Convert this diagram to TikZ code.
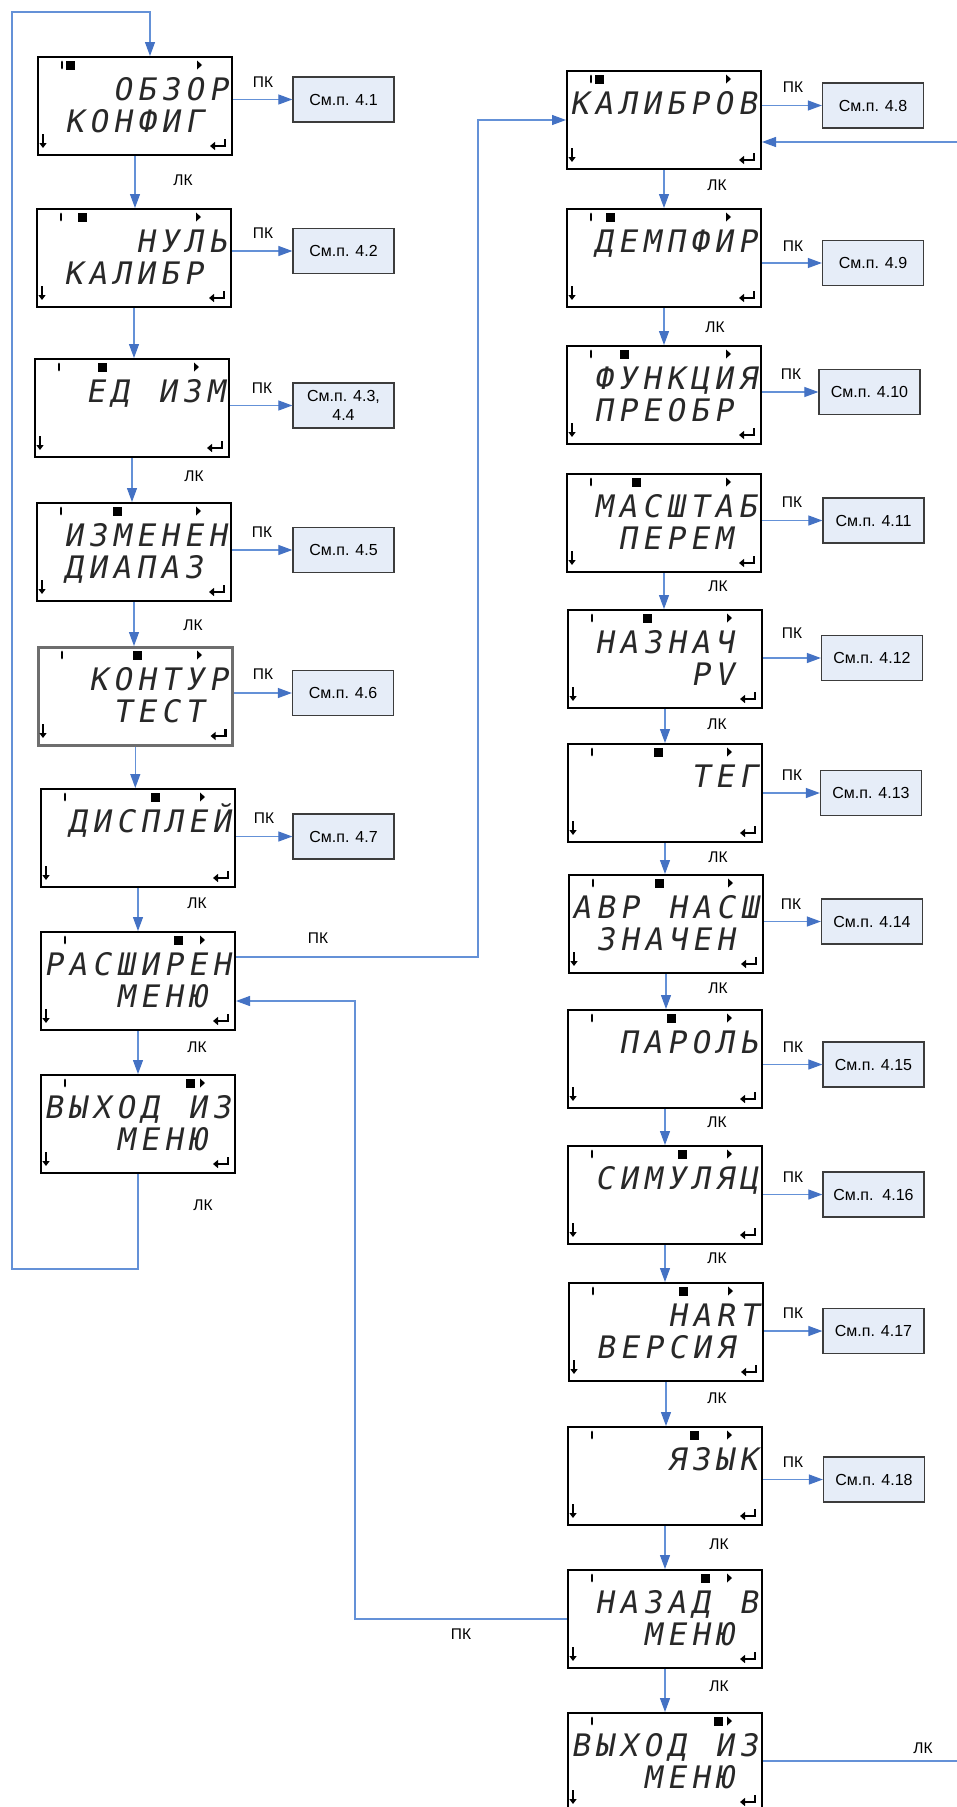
\documentclass[tikz,border=0pt]{standalone}
\usepackage{fontspec}
\setmainfont{Liberation Sans}
\newfontfamily\lcdfam[FakeSlant=0.18]{DejaVu Sans Mono}
\usetikzlibrary{arrows.meta}
\definecolor{linec}{RGB}{100,145,215}
\definecolor{tipc}{RGB}{68,114,196}
\definecolor{infofill}{RGB}{230,237,248}
\definecolor{boxc}{RGB}{60,60,60}
\definecolor{lcdc}{RGB}{40,40,40}
\newcommand\lcdfont{\lcdfam\fontsize{31}{31}\selectfont}
\newcommand\infofont{\fontsize{16}{19}\selectfont}
\newcommand\lblfont{\fontsize{15.5}{18}\selectfont}
\def\lcdloop#1{\ifx\relax#1\else\lcdcell{#1}\expandafter\lcdloop\fi}
\newcommand{\lcdcell}[1]{\makebox[24pt][c]{\if*#1\else#1\fi}}
\newcommand{\lcdrow}[1]{\lcdloop#1\relax}
\tikzset{
  conn/.style={draw=linec, line width=1.2pt},
  arr/.style={conn, -{Triangle[length=14pt,width=10pt,fill=tipc,color=tipc]}},
  infobox/.style={draw=boxc, fill=infofill, line width=1.3pt, minimum width=101pt,
    minimum height=45pt, inner sep=2pt, font=\infofont, align=center},
  lcdbox/.style={draw=black, line width=2pt, minimum width=194pt, minimum height=98pt,
    inner sep=0pt, fill=white},
  greybox/.style={draw={rgb,255:red,110;green,110;blue,110}, line width=2.6pt},
  lcdtext/.style={anchor=base west, inner sep=0pt, font=\lcdfont, text=lcdc},
  lbl/.style={font=\lblfont, inner sep=0pt},
}
\newcommand{\lcd}[7][]{%
  \node[lcdbox, #1, anchor=north west] (#2) at (#3,#4) {};
  \node[lcdtext] (#2-a) at ([shift={(1pt,-44pt)}]#2.north west) {\lcdrow{#6}};
  \node[lcdtext] (#2-b) at ([shift={(1pt,-76pt)}]#2.north west) {\lcdrow{#7}};
  \draw[line width=2.8pt, line cap=round] ([shift={(25pt,-6pt)}]#2.north west) -- ++(0pt,-6pt);
  \fill ([shift={(#5pt,-9pt)}]#2.north west) +(-4.5pt,-4.5pt) rectangle +(4.5pt,4.5pt);
  \fill ([shift={(160pt,-9pt)}]#2.north west) -- +(0pt,4.5pt) -- +(5pt,0pt) -- +(0pt,-4.5pt) -- cycle;
  \draw[line width=2.2pt, -{Triangle[length=5pt,width=7pt]}] ([shift={(6pt,-78pt)}]#2.north west) -- ++(0pt,-14pt);
  \draw[line width=2.4pt, -{Triangle[length=5pt,width=8pt]}] ([shift={(-8pt,-83pt)}]#2.north east) -- ++(0pt,-7pt) -- ++(-15pt,0pt);
}
\begin{document}
\begin{tikzpicture}[x=1pt,y=-1pt]
\useasboundingbox[fill=white] (0,0) rectangle (957,1807);
% left column
\lcd{L1}{37}{56}{33}{***ОБЗОР}{*КОНФИГ*}
\lcd{L2}{36}{208}{46}{****НУЛЬ}{*КАЛИБР*}
\lcd{L3}{34}{358}{68}{**ЕД*ИЗМ}{}
\lcd{L4}{36}{502}{81}{*ИЗМЕНЕН}{*ДИАПАЗ*}
\lcd[greybox]{L5}{37}{646}{100}{**КОНТУР}{***ТЕСТ*}
\lcd{L6}{40}{788}{115}{*ДИСПЛЕЙ}{}
\lcd{L7}{40}{931}{138}{РАСШИРЕН}{***МЕНЮ*}
\lcd{L8}{40}{1074}{150}{ВЫХОД*ИЗ}{***МЕНЮ*}
% right column
\lcd{R1}{566}{70}{33}{КАЛИБРОВ}{}
\lcd{R2}{566}{208}{44}{*ДЕМПФИР}{}
\lcd{R3}{566}{345}{58}{*ФУНКЦИЯ}{*ПРЕОБР*}
\lcd{R4}{566}{473}{70}{*МАСШТАБ}{**ПЕРЕМ*}
\lcd{R5}{567}{609}{80}{*НАЗНАЧ*}{*****PV*}
\lcd{R6}{567}{743}{91}{*****ТЕГ}{}
\lcd{R7}{568}{874}{91}{АВР*НАСШ}{*ЗНАЧЕН*}
\lcd{R8}{567}{1009}{104}{**ПАРОЛЬ}{}
\lcd{R9}{567}{1145}{115}{*СИМУЛЯЦ}{}
\lcd{R10}{568}{1282}{115}{****HART}{*ВЕРСИЯ*}
\lcd{R11}{567}{1426}{127}{****ЯЗЫК}{}
\lcd{R12}{567}{1569}{138}{*НАЗАД*В}{***МЕНЮ*}
\lcd{R13}{567}{1712}{151}{ВЫХОД*ИЗ}{***МЕНЮ*}
% info boxes
\node[infobox] (I1) at (343.5,99.5) {См.п. 4.1};
\node[infobox] (I2) at (343.5,251) {См.п. 4.2};
\node[infobox] (I3) at (343.5,405.5) {См.п. 4.3,\\4.4};
\node[infobox] (I5) at (343.5,550) {См.п. 4.5};
\node[infobox] (I6) at (343,693) {См.п. 4.6};
\node[infobox] (I7) at (343.5,836.5) {См.п. 4.7};
\node[infobox] (I8) at (873,105.5) {См.п. 4.8};
\node[infobox] (I9) at (873,263) {См.п. 4.9};
\node[infobox] (I10) at (869.5,392) {См.п. 4.10};
\node[infobox] (I11) at (873.5,520.5) {См.п. 4.11};
\node[infobox] (I12) at (872,658) {См.п. 4.12};
\node[infobox] (I13) at (871,793) {См.п. 4.13};
\node[infobox] (I14) at (872,921.5) {См.п. 4.14};
\node[infobox] (I15) at (873.5,1064.5) {См.п. 4.15};
\node[infobox] (I16) at (873.5,1194.5) {См.п.\ \ 4.16};
\node[infobox] (I17) at (873.5,1331) {См.п. 4.17};
\node[infobox] (I18) at (874,1479.5) {См.п. 4.18};
% horizontal arrows to info boxes
\foreach \a/\b in {L1/I1,L2/I2,L3/I3,L4/I5,L5/I6,L6/I7,R1/I8,R2/I9,R3/I10,R4/I11,R5/I12,R6/I13,R7/I14,R8/I15,R9/I16,R10/I17,R11/I18}
  \draw[arr] (\b.west -| \a.east) -- (\b.west);
% vertical arrows
\foreach \a/\b in {L1/L2,L2/L3,L3/L4,L4/L5,L5/L6,L6/L7,L7/L8,R1/R2,R2/R3,R4/R5,R5/R6,R6/R7,R7/R8,R8/R9,R9/R10,R10/R11,R11/R12,R12/R13}
  \draw[arr] (\a.south) -- (\a.south |- \b.north);
% loop back to top
\coordinate (c1) at (12,1269);
\coordinate (c2) at (12,12);
\coordinate (c3) at (150,12);
\draw[arr] (L8.south) -- (L8.south |- c1) -- (c1) -- (c2) -- (c3) -- (c3 |- L1.north);
% ПК from РАСШИРЕН to КАЛИБРОВ
\coordinate (k1) at (478,957);
\draw[arr] (L7.east |- k1) -- (k1) -- (k1 |- R1.west) -- (R1.west);
% НАЗАД back to РАСШИРЕН
\coordinate (k2) at (355,1001);
\draw[arr] (R12.west) -- (R12.west -| k2) -- (k2) -- (L7.east |- k2);
% free ends on right
\coordinate (e1) at (957,1761);
\draw[conn] (R13.east |- e1) -- (e1);
\coordinate (e2) at (957,142);
\draw[arr] (e2) -- (R1.east |- e2);
% labels ПК
\node[lbl] (p1) at (263,82) {ПК};
\node[lbl] (p2) at (263,233) {ПК};
\node[lbl] (p3) at (262,388) {ПК};
\node[lbl] (p4) at (262,532) {ПК};
\node[lbl] (p5) at (263,674) {ПК};
\node[lbl] (p6) at (264,818) {ПК};
\node[lbl] (p7) at (318,938) {ПК};
\node[lbl] (p8) at (793,87) {ПК};
\node[lbl] (p9) at (793,246) {ПК};
\node[lbl] (p10) at (791,374) {ПК};
\node[lbl] (p11) at (792,502) {ПК};
\node[lbl] (p12) at (792,633) {ПК};
\node[lbl] (p13) at (792,775) {ПК};
\node[lbl] (p14) at (791,904) {ПК};
\node[lbl] (p15) at (793,1047) {ПК};
\node[lbl] (p16) at (793,1177) {ПК};
\node[lbl] (p17) at (793,1313) {ПК};
\node[lbl] (p18) at (793,1462) {ПК};
\node[lbl] (p19) at (461,1634) {ПК};
% labels ЛК
\node[lbl] (q1) at (183,180) {ЛК};
\node[lbl] (q2) at (194,476) {ЛК};
\node[lbl] (q3) at (193,625) {ЛК};
\node[lbl] (q4) at (197,903) {ЛК};
\node[lbl] (q5) at (197,1047) {ЛК};
\node[lbl] (q6) at (203,1205) {ЛК};
\node[lbl] (q7) at (717,185) {ЛК};
\node[lbl] (q8) at (715,327) {ЛК};
\node[lbl] (q9) at (718,586) {ЛК};
\node[lbl] (q10) at (717,724) {ЛК};
\node[lbl] (q11) at (718,857) {ЛК};
\node[lbl] (q12) at (718,988) {ЛК};
\node[lbl] (q13) at (717,1122) {ЛК};
\node[lbl] (q14) at (717,1258) {ЛК};
\node[lbl] (q15) at (717,1398) {ЛК};
\node[lbl] (q16) at (719,1544) {ЛК};
\node[lbl] (q17) at (719,1686) {ЛК};
\node[lbl] (q18) at (923,1748) {ЛК};
\end{tikzpicture}
\end{document}
